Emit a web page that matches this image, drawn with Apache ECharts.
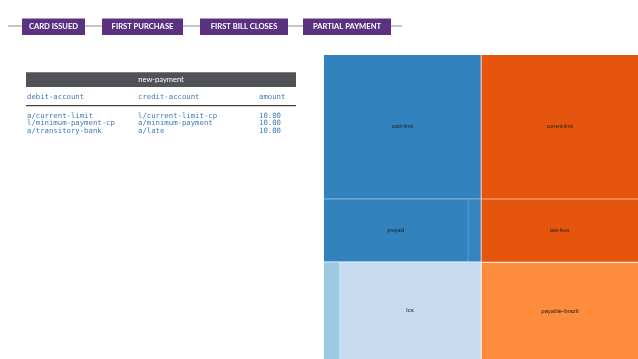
<!DOCTYPE html>
<html><head><meta charset="utf-8">
<script src="https://cdn.jsdelivr.net/npm/echarts@6/dist/echarts.min.js"></script>
<style>html,body{margin:0;padding:0;background:#fff}#c{width:638px;height:359px}</style>
</head><body><div id="c"></div>
<script>
// ---- data ----
const stages = ['CARD ISSUED', 'FIRST PURCHASE', 'FIRST BILL CLOSES', 'PARTIAL PAYMENT'];
const tableTitle = 'new-payment';
const columns = ['debit-account', 'credit-account', 'amount'];
const debitAccounts = ['a/current-limit', 'l/minimum-payment-cp', 'a/transitory-bank'];
const creditAccounts = ['l/current-limit-cp', 'a/minimum-payment', 'a/late'];
const amounts = ['10.00', '10.00', '10.00'];

// treemap leaves (left group / right group)
const assetNames  = ['cash-limit', 'prepaid', '', '', 'lcs'];
const assetValues = [226, 91, 8, 15, 138];
const liabNames   = ['current-limit', 'late-fees', 'payable-brazil'];
const liabValues  = [226, 99, 152];

// ---- styles / layout ----
const blue = '#3182bd', blueThin = '#3384c0', lightBlue = '#c6dbef', stripBlue = '#9ecae1';
const orange = '#e6550d', lightOrange = '#fd8d3c';
const boxX = [[22, 85], [102, 183], [200, 288], [303, 391]];
const colX = [27, 138, 259];
const rowY = [115.7, 123.5, 131.5];
const mono = '7.3px "DejaVu Sans Mono"';
const tblBlue = '#3f7cb8';

function leaf(name, value, color, fs) {
  return { name, value, itemStyle: { color }, label: { fontSize: fs || 5 } };
}

const treeData = [
  {
    name: 'assets', itemStyle: { gapWidth: 1, borderColor: '#fff' },
    children: [
      { name: 'a-top', itemStyle: { gapWidth: 1, borderColor: '#4f95cc' },
        children: [
          leaf(assetNames[0], assetValues[0], blue),
          { name: 'a-mid', itemStyle: { gapWidth: 1, borderColor: '#3f8bc5' },
            children: [leaf(assetNames[1], assetValues[1], blue), leaf(assetNames[2], assetValues[2], blueThin)] }
        ] },
      { name: 'a-bot', itemStyle: { gapWidth: 0 },
        children: [leaf(assetNames[3], assetValues[3], stripBlue), leaf(assetNames[4], assetValues[4], lightBlue, 6)] }
    ]
  },
  {
    name: 'liabilities', itemStyle: { gapWidth: 1, borderColor: '#fff' },
    children: [
      { name: 'l-top', itemStyle: { gapWidth: 1, borderColor: '#ea6c33' },
        children: [leaf(liabNames[0], liabValues[0], orange), leaf(liabNames[1], liabValues[1], orange)] },
      leaf(liabNames[2], liabValues[2], lightOrange, 6)
    ]
  }
];

// ---- graphics ----
const g = [];
g.push({ type: 'line', shape: { x1: 8, y1: 26, x2: 402, y2: 26 }, style: { stroke: '#b3b3b3', lineWidth: 1.5 }, z: 1 });
stages.forEach((s, i) => {
  const [a, b] = boxX[i];
  g.push({ type: 'rect', shape: { x: a, y: 18.5, width: b - a, height: 16.5 }, style: { fill: '#5b3282' }, z: 2 });
  g.push({ type: 'text', x: (a + b) / 2, y: 27, z: 3,
    style: { text: s, fill: '#fff', font: 'bold 7.6px Lato', align: 'center', verticalAlign: 'middle' } });
});
g.push({ type: 'rect', shape: { x: 26, y: 72.3, width: 270, height: 14.7 }, style: { fill: '#505257' } });
g.push({ type: 'text', x: 161, y: 80, style: { text: tableTitle, fill: '#fff', font: '7.5px Lato', align: 'center', verticalAlign: 'middle' } });
columns.forEach((c, i) => {
  g.push({ type: 'text', x: colX[i], y: 97, style: { text: c, fill: tblBlue, font: mono, align: 'left', verticalAlign: 'middle' } });
});
g.push({ type: 'line', shape: { x1: 26, y1: 105.7, x2: 296, y2: 105.7 }, style: { stroke: '#111', lineWidth: 1 } });
[debitAccounts, creditAccounts, amounts].forEach((col, ci) => {
  col.forEach((t, ri) => {
    g.push({ type: 'text', x: colX[ci], y: rowY[ri], style: { text: t, fill: tblBlue, font: mono, align: 'left', verticalAlign: 'middle' } });
  });
});

const chart = echarts.init(document.getElementById('c'), null, { renderer: 'canvas' });
chart.setOption({
  animation: false,
  graphic: g,
  series: [{
    type: 'treemap',
    left: 324, top: 55, width: 314, height: 304,
    roam: false, nodeClick: false, sort: false, squareRatio: 1, visibleMin: 0,
    breadcrumb: { show: false },
    label: { show: true, position: 'inside', color: '#1c1c1c', fontSize: 5, fontFamily: 'Liberation Sans' },
    upperLabel: { show: false },
    levels: [{ itemStyle: { gapWidth: 1, borderColor: '#fff', borderWidth: 0 } }],
    itemStyle: { borderWidth: 0 },
    data: treeData
  }]
});
</script></body></html>
